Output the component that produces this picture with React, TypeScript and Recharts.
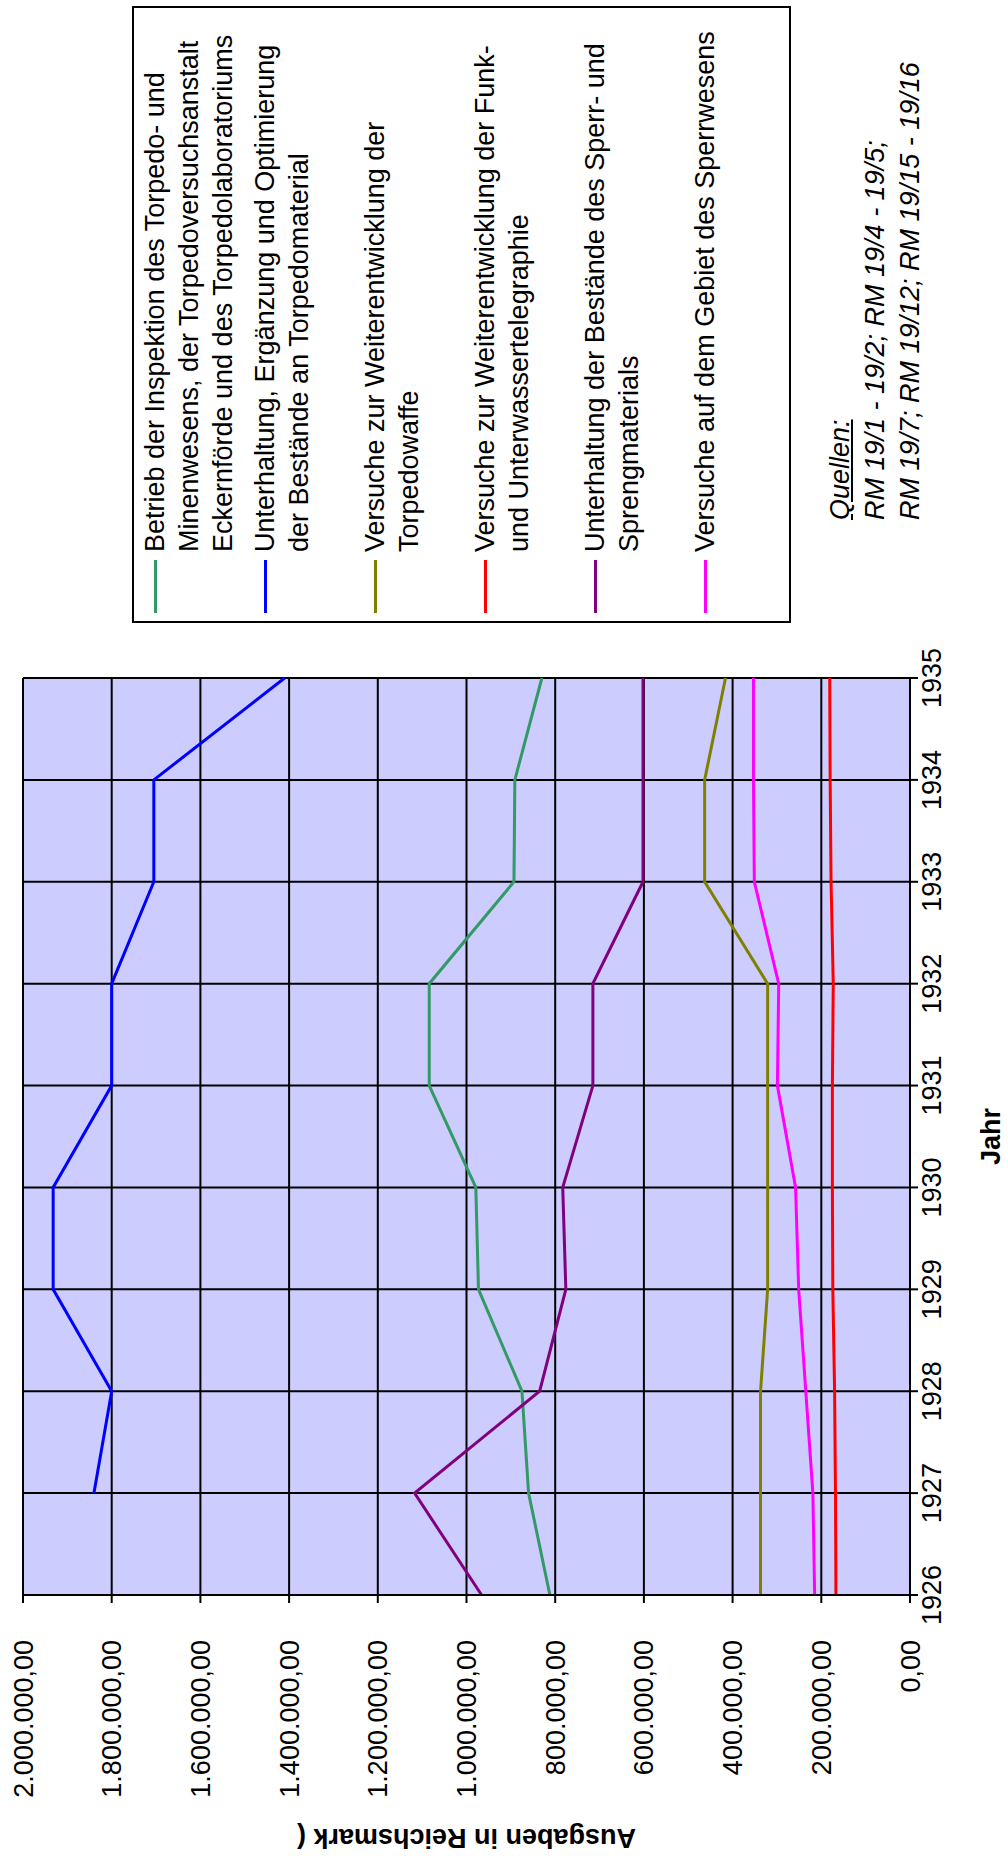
import React from "react";
import { LineChart, Line, XAxis, YAxis, CartesianGrid, Legend } from "recharts";

const FONT = '"Liberation Sans", Arial, sans-serif';

const years = [1926, 1927, 1928, 1929, 1930, 1931, 1932, 1933, 1934, 1935];
const inspektion = [812000, 860000, 875000, 973000, 979000, 1084000, 1084000, 893000, 891000, 830000];
const torpedomaterial = [null, 1840000, 1800000, 1932000, 1932000, 1800000, 1800000, 1705000, 1705000, 1410000];
const torpedowaffe = [337000, 337000, 337000, 321000, 321000, 321000, 321000, 463000, 463000, 416000];
const funk = [167000, 168000, 170000, 174000, 175000, 175000, 173000, 178000, 180000, 181000];
const sperrBestaende = [966000, 1117000, 835000, 776000, 783000, 715000, 715000, 602000, 602000, 602000];
const sperrVersuche = [215000, 219000, 235000, 251000, 258000, 299000, 296000, 351000, 353000, 353000];

const valueTicks = [0, 200000, 400000, 600000, 800000, 1000000, 1200000, 1400000, 1600000, 1800000, 2000000];

const series = [
  {
    key: "inspektion",
    color: "#339966",
    values: inspektion,
    lines: [
      "Betrieb der Inspektion des Torpedo- und",
      "Minenwesens, der Torpedoversuchsanstalt",
      "Eckernförde und des Torpedolaboratoriums",
    ],
  },
  {
    key: "torpedomaterial",
    color: "#0000ff",
    values: torpedomaterial,
    lines: ["Unterhaltung, Ergänzung und Optimierung", "der Bestände an Torpedomaterial"],
  },
  {
    key: "torpedowaffe",
    color: "#808000",
    values: torpedowaffe,
    lines: ["Versuche zur Weiterentwicklung der", "Torpedowaffe"],
  },
  {
    key: "funk",
    color: "#ff0000",
    values: funk,
    lines: ["Versuche zur Weiterentwicklung der Funk-", "und Unterwassertelegraphie"],
  },
  {
    key: "sperrBestaende",
    color: "#800080",
    values: sperrBestaende,
    lines: ["Unterhaltung der Bestände des Sperr- und", "Sprengmaterials"],
  },
  {
    key: "sperrVersuche",
    color: "#ff00ff",
    values: sperrVersuche,
    lines: ["Versuche auf dem Gebiet des Sperrwesens"],
  },
];

const quellen = ["RM 19/1 - 19/2; RM 19/4 - 19/5;", "RM 19/7; RM 19/12; RM 19/15 - 19/16"];

const data = years.map((year, i) => {
  const row: any = { year };
  series.forEach((s) => {
    row[s.key] = s.values[i];
  });
  return row;
});

// 2000000 -> "2.000.000,00"
const formatDe = (v: number) => {
  const s = String(Math.round(v));
  const grouped = s.replace(/\B(?=(\d{3})+(?!\d))/g, ".");
  return grouped + ",00";
};

const renderLegend = () => (
  <div
    style={{
      width: 617,
      height: 659,
      border: "2px solid #000",
      boxSizing: "border-box",
      background: "#fff",
      position: "relative",
      fontFamily: FONT,
      fontSize: 27,
      color: "#000",
    }}
  >
    {series.map((s, i) => (
      <div key={s.key} style={{ position: "absolute", left: 0, top: 4 + i * 110, width: "100%" }}>
        <div style={{ position: "absolute", left: 8, top: 15.5, width: 53, height: 3, background: s.color }} />
        <div style={{ position: "absolute", left: 69, top: 0, lineHeight: "34px", whiteSpace: "nowrap" }}>
          {s.lines.map((l) => (
            <div key={l}>{l}</div>
          ))}
        </div>
      </div>
    ))}
  </div>
);

const YTitle = (props: any) => {
  const vb = props.viewBox || {};
  const cy = vb.y + vb.height / 2;
  return (
    <text
      x={27}
      y={cy}
      transform={`rotate(-90, 27, ${cy})`}
      textAnchor="middle"
      fontFamily={FONT}
      fontSize={27}
      fontWeight="bold"
      fill="#000"
    >
      Ausgaben in Reichsmark (
    </text>
  );
};

const XTitle = (props: any) => {
  const vb = props.viewBox || {};
  return (
    <text
      x={vb.x + vb.width / 2}
      y={vb.y + 90}
      textAnchor="middle"
      fontFamily={FONT}
      fontSize={27}
      fontWeight="bold"
      fill="#000"
    >
      Jahr
    </text>
  );
};

export default function App() {
  return (
    <div style={{ position: "absolute", left: 0, top: 0, width: 1008, height: 1856, overflow: "hidden", background: "#fff" }}>
      <div
        style={{
          position: "absolute",
          left: 0,
          top: 0,
          width: 1856,
          height: 1008,
          transformOrigin: "0 0",
          transform: "translateY(1856px) rotate(-90deg)",
        }}
      >
        <LineChart width={1856} height={1008} data={data} margin={{ top: 23, right: 678, bottom: 8, left: 21 }}>
          <CartesianGrid fill="#ccccff" fillOpacity={1} stroke="#000" strokeWidth={2} />
          <XAxis
            dataKey="year"
            type="number"
            domain={[1926, 1935]}
            ticks={years}
            height={90}
            tickSize={8}
            tickMargin={4}
            stroke="#000"
            strokeWidth={2}
            tick={{ fill: "#000", fontSize: 27, fontFamily: FONT }}
            label={<XTitle />}
          />
          <YAxis
            type="number"
            domain={[0, 2000000]}
            ticks={valueTicks}
            width={240}
            tickSize={8}
            tickMargin={37}
            tickFormatter={formatDe}
            stroke="#000"
            strokeWidth={2}
            tick={{ fill: "#000", fontSize: 27, fontFamily: FONT }}
            label={<YTitle />}
          />
          <Legend
            layout="vertical"
            align="center"
            verticalAlign="middle"
            content={renderLegend}
            wrapperStyle={{ left: 1233, top: 132, width: 617, height: 659 }}
          />
          {series.map((s) => (
            <Line
              key={s.key}
              type="linear"
              dataKey={s.key}
              stroke={s.color}
              strokeWidth={3}
              dot={false}
              activeDot={false}
              isAnimationActive={false}
            />
          ))}
        </LineChart>
        <div
          style={{
            position: "absolute",
            left: 1336,
            top: 858,
            fontFamily: FONT,
            fontSize: 27,
            fontStyle: "italic",
            lineHeight: "35px",
            color: "#000",
            whiteSpace: "nowrap",
          }}
        >
          <div style={{ textDecoration: "underline", marginTop: -35 }}>Quellen:</div>
          {quellen.map((q) => (
            <div key={q}>{q}</div>
          ))}
        </div>
      </div>
    </div>
  );
}
